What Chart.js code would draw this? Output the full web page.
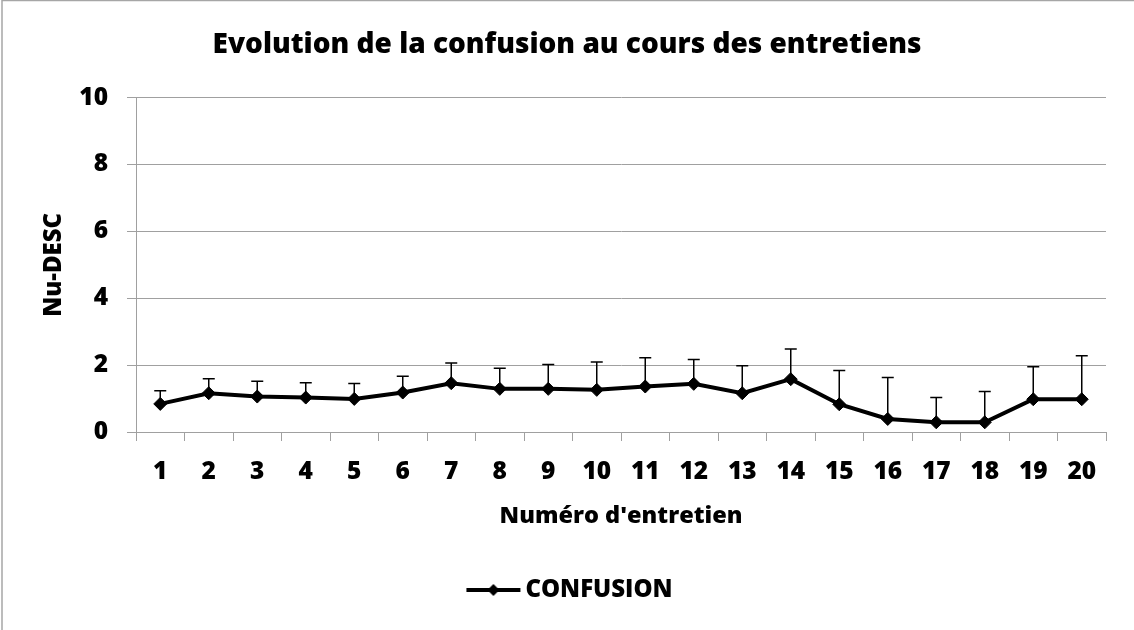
<!DOCTYPE html>
<html>
<head>
<meta charset="utf-8">
<script src="https://cdn.jsdelivr.net/npm/chart.js@4.4.0/dist/chart.umd.min.js"></script>
<style>
  html, body { margin: 0; padding: 0; background: #fff; }
  #wrap { position: relative; width: 1134px; height: 630px; }
</style>
</head>
<body>
<div id="wrap"><canvas id="c"></canvas></div>
<script>
const categories = ['1','2','3','4','5','6','7','8','9','10','11','12','13','14','15','16','17','18','19','20'];
const confusion = [0.84,1.16,1.06,1.03,0.99,1.18,1.46,1.29,1.29,1.26,1.36,1.44,1.16,1.58,0.83,0.39,0.29,0.29,0.98,0.98];
const errorPlus = [0.39,0.43,0.46,0.44,0.46,0.49,0.60,0.62,0.73,0.83,0.86,0.73,0.82,0.90,1.01,1.24,0.74,0.92,0.97,1.30];
const yTicks = [0,2,4,6,8,10];
const titleText = 'Evolution de la confusion au cours des entretiens';
const xTitle = "Numéro d'entretien";
const yTitle = 'Nu-DESC';
const seriesName = 'CONFUSION';

const FONT = '"Open Sans", Lato, sans-serif';
const W = '800';
const GRID = '#a0a0a0';

// legend symbol: line with diamond (transparent margin on the left)
const sym = document.createElement('canvas');
sym.width = 74; sym.height = 14;
(function(){
  const g = sym.getContext('2d');
  g.strokeStyle = '#000'; g.lineWidth = 4;
  g.beginPath(); g.moveTo(16, 7); g.lineTo(70, 7); g.stroke();
  g.fillStyle = '#000';
  g.beginPath(); g.moveTo(43-6, 7); g.lineTo(43, 1); g.lineTo(43+6, 7); g.lineTo(43, 13); g.closePath(); g.fill();
})();

const errorBars = {
  id: 'errorBars',
  beforeDatasetsDraw(chart) {
    const ctx = chart.ctx;
    const meta = chart.getDatasetMeta(0);
    const y = chart.scales.y;
    ctx.save();
    ctx.strokeStyle = '#000';
    ctx.lineWidth = 1.5;
    meta.data.forEach((pt, i) => {
      const yv = y.getPixelForValue(confusion[i]);
      const yt = y.getPixelForValue(confusion[i] + errorPlus[i]);
      ctx.beginPath();
      ctx.moveTo(pt.x, yv); ctx.lineTo(pt.x, yt);
      ctx.moveTo(pt.x - 6, yt); ctx.lineTo(pt.x + 6, yt);
      ctx.stroke();
    });
    ctx.restore();
  }
};

const frame = {
  id: 'frame',
  beforeDraw(chart) {
    const ctx = chart.ctx;
    ctx.save();
    ctx.fillStyle = '#fff';
    ctx.fillRect(0, 0, chart.width, chart.height);
    ctx.strokeStyle = '#a6a6a6';
    ctx.lineWidth = 1.5;
    ctx.beginPath();
    ctx.moveTo(2, chart.height); ctx.lineTo(2, 0.5); ctx.lineTo(chart.width, 0.5);
    ctx.stroke();
    ctx.restore();
  }
};

new Chart(document.getElementById('c'), {
  type: 'line',
  data: {
    labels: categories,
    datasets: [{
      label: seriesName,
      data: confusion,
      borderColor: '#000',
      backgroundColor: '#000',
      borderWidth: 4,
      tension: 0,
      pointStyle: 'rectRot',
      pointRadius: 6.5,
      pointBorderWidth: 1,
      pointBackgroundColor: '#000',
      pointBorderColor: '#000',
      yAxisID: 'y'
    }]
  },
  options: {
    responsive: true,
    maintainAspectRatio: false,
    animation: false,
    layout: { padding: { top: 0, right: 0, bottom: 18, left: 0 } },
    plugins: {
      title: {
        display: true, text: titleText, color: '#000',
        font: { family: FONT, size: 28, weight: W },
        padding: { top: 28, bottom: 36 }
      },
      legend: {
        display: true, position: 'bottom',
        labels: {
          usePointStyle: true, pointStyle: sym, pointStyleWidth: 52,
          color: '#000', padding: 48,
          font: { family: FONT, size: 24, weight: W }
        }
      },
      tooltip: { enabled: false }
    },
    scales: {
      x: {
        type: 'category',
        offset: true,
        grid: { offset: true, drawOnChartArea: false, drawTicks: true, tickLength: 9, color: GRID },
        border: { display: true, color: GRID, width: 1 },
        ticks: { color: '#000', padding: 16, maxRotation: 0, autoSkip: false, font: { family: FONT, size: 24.5, weight: W } },
        title: { display: true, text: xTitle, color: '#000', padding: { top: 0, bottom: 0 }, font: { family: FONT, size: 23.5, weight: W } },
        afterFit(s) { s.height = 98; }
      },
      y: {
        position: 'left',
        min: 0, max: 10,
        afterBuildTicks(s) { s.ticks = yTicks.map(v => ({ value: v })); },
        grid: { color: GRID, tickLength: 9, lineWidth: 1 },
        border: { display: true, color: GRID, width: 1 },
        ticks: { color: '#000', padding: 19, font: { family: FONT, size: 24.5, weight: W } },
        title: { display: true, text: yTitle, color: '#000', padding: { top: 40, bottom: 0 }, font: { family: FONT, size: 24, weight: W } },
        afterFit(s) { s.width = 136; }
      },
      y2: {
        position: 'right',
        display: true,
        min: 0, max: 10,
        grid: { display: false, drawTicks: false },
        border: { display: false },
        ticks: { display: false },
        afterFit(s) { s.width = 28; }
      }
    }
  },
  plugins: [frame, errorBars]
});
</script>
</body>
</html>
